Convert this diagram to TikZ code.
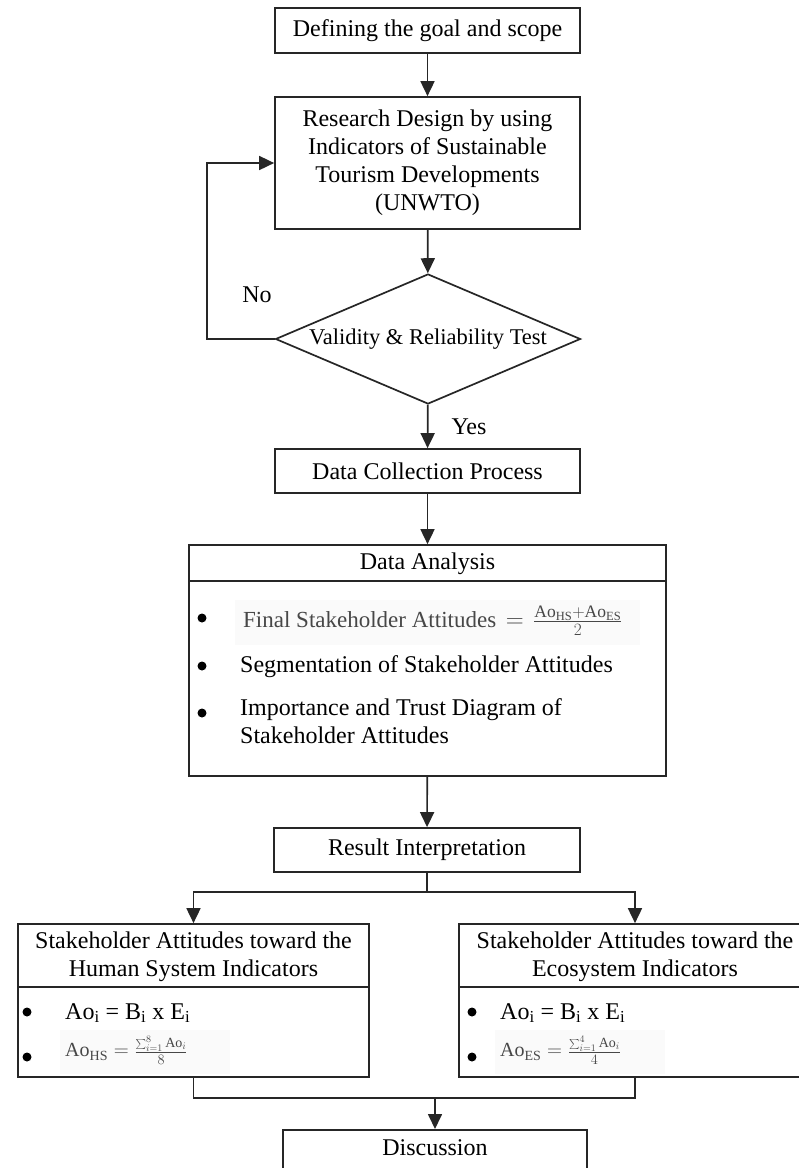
\documentclass[tikz,border=0pt]{standalone}
\usepackage{fontspec}
\setmainfont{Liberation Serif}
\usetikzlibrary{shapes.geometric,arrows.meta,calc}
\definecolor{frmgray}{HTML}{474747}
\definecolor{linec}{HTML}{262626}
\begin{document}
\begin{tikzpicture}[x=1pt,y=-1pt,
  box/.style={draw=linec,line width=1.7pt,rectangle,inner sep=0pt,fill=white,
    font=\fontsize{24}{28}\selectfont,align=center},
  arr/.style={draw=linec,line width=1.7pt,-{Triangle[length=15pt,width=14pt]}},
  ln/.style={draw=linec,line width=1.7pt},
  txt/.style={font=\fontsize{24}{28}\selectfont,inner sep=0pt,align=center},
  ltxt/.style={font=\fontsize{24}{28}\selectfont,inner sep=0pt,align=left},
  frm/.style={font=\fontsize{23}{27}\selectfont,text=frmgray,inner sep=0pt},
  sfrm/.style={font=\fontsize{20}{22}\selectfont,text=frmgray,inner sep=0pt},
  bul/.style={circle,fill=black,inner sep=0pt,minimum size=9pt},
  fbg/.style={fill=black!2,draw=none}]
\useasboundingbox (0,0) rectangle (799,1168);
\clip (0,0) rectangle (799,1168);

% main column
\node[box,minimum width=305pt,minimum height=45pt] (goal) at (427.5,30.5) {Defining the goal and scope};
\node[box,minimum width=305pt,minimum height=132pt] (design) at (427.5,163)
  {Research Design by using\\Indicators of Sustainable\\Tourism Developments\\(UNWTO)};
\node[box,diamond,aspect=2.35,minimum width=305pt,minimum height=130pt,
  font=\fontsize{22.5}{26}\selectfont] (test) at (428,339) {Validity \& Reliability Test};
\node[box,minimum width=305pt,minimum height=44pt] (collect) at (427.5,471) {Data Collection Process};

% data analysis
\node[box,minimum width=477pt,minimum height=231pt] (da) at (427.5,660.5) {};
\node[txt] (datitle) at (427.5,564) {Data Analysis};
\draw[ln] ($(da.north west)+(0,37)$) -- ($(da.north east)+(0,37)$);
\fill[fbg] (235,600) rectangle (640,645);
\node[bul] (b1) at (202,618) {};
\node[frm,anchor=west] (f1) at (243,621)
  {Final Stakeholder Attitudes\, $=$\, {\fontsize{25}{27}\selectfont$\frac{\mathrm{Ao}_{\mathrm{HS}}+\mathrm{Ao}_{\mathrm{ES}}}{2}$}};
\node[bul] (b2) at (202,666) {};
\node[ltxt,anchor=west] (t2) at (240,667) {Segmentation of Stakeholder Attitudes};
\node[bul] (b3) at (202,713) {};
\node[ltxt,anchor=north west] (t3) at (240,698) {Importance and Trust Diagram of\\Stakeholder Attitudes};

% result
\node[box,minimum width=306pt,minimum height=44pt] (result) at (427,850) {Result Interpretation};

% human system box
\node[box,minimum width=351pt,minimum height=153pt] (hs) at (193.5,1000.5) {};
\node[txt] (hstitle) at (193.5,957) {Stakeholder Attitudes toward the\\Human System Indicators};
\draw[ln] ($(hs.north west)+(0,64)$) -- ($(hs.north east)+(0,64)$);
\fill[fbg] (60,1030) rectangle (230,1074);
\node[bul] (hb1) at (27,1012) {};
\node[ltxt,anchor=west] (ht1) at (65,1013) {Ao\textsubscript{i} = B\textsubscript{i} x E\textsubscript{i}};
\node[bul] (hb2) at (27,1057) {};
\node[sfrm,anchor=west] (ht2) at (65,1050)
  {$\mathrm{Ao}_{\mathrm{HS}} = \frac{\sum_{i=1}^{8}\mathrm{Ao}_{i}}{8}$};

% ecosystem box
\node[box,minimum width=352pt,minimum height=153pt] (es) at (635,1000.5) {};
\node[txt] (estitle) at (635,957) {Stakeholder Attitudes toward the\\Ecosystem Indicators};
\draw[ln] ($(es.north west)+(0,64)$) -- ($(es.north east)+(0,64)$);
\fill[fbg] (495,1030) rectangle (665,1074);
\node[bul] (eb1) at (472,1012) {};
\node[ltxt,anchor=west] (et1) at (500,1013) {Ao\textsubscript{i} = B\textsubscript{i} x E\textsubscript{i}};
\node[bul] (eb2) at (472,1057) {};
\node[sfrm,anchor=west] (et2) at (500,1050)
  {$\mathrm{Ao}_{\mathrm{ES}} = \frac{\sum_{i=1}^{4}\mathrm{Ao}_{i}}{4}$};

% discussion
\node[box,minimum width=304pt,anchor=north,inner ysep=10pt,text depth=22pt] (disc) at (435,1129) {Discussion};

% connectors
\coordinate (loopx) at (207,0);
\coordinate (split) at (427,892);
\coordinate (mrg) at (435,1098);
\draw[arr] (goal) -- (design);
\draw[arr] (design) -- (test);
\draw[arr] (test.west) -- (test.west -| loopx) |- (design.west);
\node[txt] (no) at (257,295) {No};
\draw[arr] (test) -- (collect);
\node[txt] (yes) at (469,427) {Yes};
\draw[arr] (collect) -- (da);
\draw[arr] (da) -- (result);
\draw[ln] (result.south) -- (split);
\draw[arr] (split) -| (hs.north);
\draw[arr] (split) -| (es.north);
\draw[ln] (hs.south) |- (mrg) -| (es.south);
\draw[arr] (mrg) -- (disc);
\end{tikzpicture}
\end{document}
